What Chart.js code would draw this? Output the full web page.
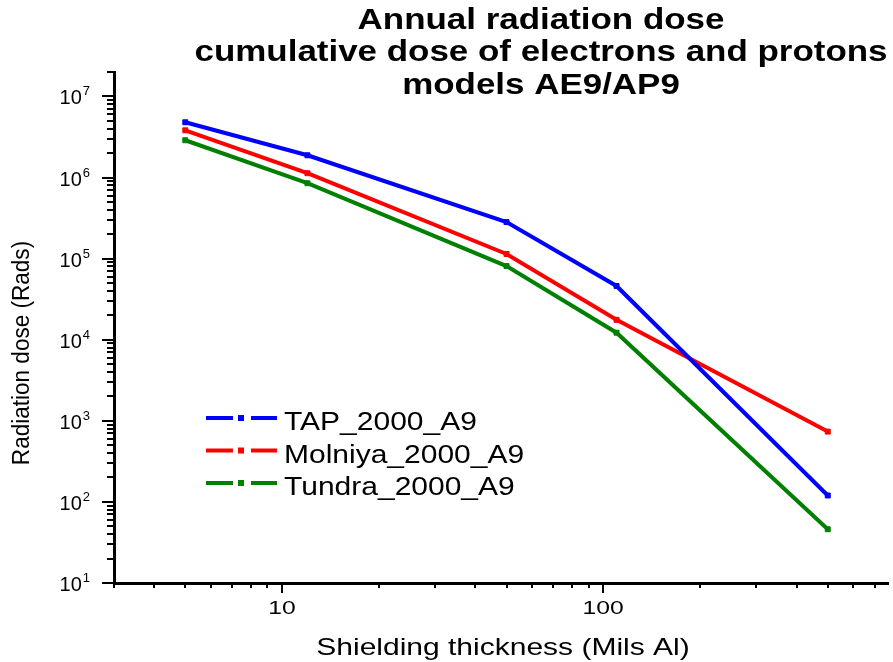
<!DOCTYPE html>
<html>
<head>
<meta charset="utf-8">
<script src="https://cdn.jsdelivr.net/npm/chart.js@4/dist/chart.umd.min.js"></script>
<style>
	html, body { margin: 0; padding: 0; background: #ffffff; }
	canvas { display: block; }
</style>
</head>
<body>
<canvas id="doseChart" width="893" height="662"></canvas>
<script>
//DOSE DATA
//Shielding thickness in mils of aluminium, dose in rads per year

const thicknessMils = [5, 12, 50, 110, 500];
const tapDose = [4.8e6, 1.88e6, 2.82e5, 4.6e4, 120];
const molniyaDose = [3.82e6, 1.13e6, 1.14e5, 1.76e4, 736];
const tundraDose = [2.88e6, 8.5e5, 8.1e4, 1.22e4, 46];
const seriesNames = ["TAP_2000_A9", "Molniya_2000_A9", "Tundra_2000_A9"];
const seriesColors = ["#0000ff", "#ff0000", "#008000"];
const titleLines = [
	"Annual radiation dose",
	"cumulative dose of electrons and protons",
	"models AE9/AP9",
];
const xTickLabels = [10, 100];
const yTickLabels = [1e1, 1e2, 1e3, 1e4, 1e5, 1e6, 1e7];
const xTitle = "Shielding thickness (Mils Al)";
const yTitle = "Radiation dose (Rads)";

const FONT = "'Liberation Sans', Arial, sans-serif";

function toPoints(values) {
	return thicknessMils.map((x, i) => ({ x: x, y: values[i] }));
}

// draws text squeezed or stretched sideways, like the reference
function drawText(ctx, text, x, y, font, sx, align) {
	ctx.save();
	ctx.font = font;
	ctx.textAlign = "left";
	ctx.textBaseline = "alphabetic";
	const w = ctx.measureText(text).width * sx;
	let left = x;
	if (align === "center") left = x - w / 2;
	if (align === "right") left = x - w;
	ctx.translate(left, y);
	ctx.scale(sx, 1);
	ctx.fillText(text, 0, 0);
	ctx.restore();
	return w;
}

function isDecadeStep(v) {
	const e = Math.floor(Math.log10(v) + 1e-9);
	const m = v / Math.pow(10, e);
	return Math.abs(m - Math.round(m)) < 1e-6;
}

function isMajor(v) {
	const l = Math.log10(v);
	return Math.abs(l - Math.round(l)) < 1e-6;
}

//AXES, TICKS, TITLE AND LEGEND
const doseDecorations = {
	id: "doseDecorations",
	afterDraw(chart) {
		const ctx = chart.ctx;
		const xs = chart.scales.x;
		const ys = chart.scales.y;
		const area = chart.chartArea;
		ctx.save();
		ctx.fillStyle = "#000000";
		ctx.strokeStyle = "#000000";
		ctx.lineWidth = 2;

		// x ticks
		xs.ticks.forEach((t) => {
			if (!isDecadeStep(t.value)) return;
			const px = Math.round(xs.getPixelForValue(t.value));
			const len = isMajor(t.value) ? 10 : 5;
			ctx.beginPath();
			ctx.moveTo(px, area.bottom);
			ctx.lineTo(px, area.bottom + len);
			ctx.stroke();
		});
		// y ticks
		ys.ticks.forEach((t) => {
			if (!isDecadeStep(t.value)) return;
			const py = Math.round(ys.getPixelForValue(t.value));
			const len = isMajor(t.value) ? 12 : 7;
			ctx.beginPath();
			ctx.moveTo(area.left, py);
			ctx.lineTo(area.left - len, py);
			ctx.stroke();
		});

		// x tick labels
		xTickLabels.forEach((v) => {
			const px = xs.getPixelForValue(v);
			drawText(ctx, String(v), px, area.bottom + 31, "19px " + FONT, 1.3, "center");
		});
		// y tick labels as 10 with exponent
		yTickLabels.forEach((v) => {
			const py = ys.getPixelForValue(v);
			const exp = String(Math.round(Math.log10(v)));
			ctx.font = "13px " + FONT;
			const ew = ctx.measureText(exp).width;
			const right = area.left - 24;
			drawText(ctx, exp, right, py - 1, "13px " + FONT, 1, "right");
			drawText(ctx, "10", right - ew - 1, py + 8, "20px " + FONT, 1, "right");
		});

		// axis titles
		drawText(ctx, xTitle, (area.left + area.right) / 2 + 2, 655, "24px " + FONT, 1.25, "center");
		ctx.save();
		ctx.translate(29, 353);
		ctx.rotate(-Math.PI / 2);
		drawText(ctx, yTitle, 0, 0, "23px " + FONT, 0.98, "center");
		ctx.restore();

		// chart title
		const titleFont = "bold 29px " + FONT;
		ctx.font = titleFont;
		const titleSx = 693 / ctx.measureText(titleLines[1]).width;
		titleLines.forEach((line, i) => {
			drawText(ctx, line, 541, 29 + i * 32.3, titleFont, titleSx, "center");
		});

		// legend inside the plot
		chart.data.datasets.forEach((ds, i) => {
			const ly = 418 + i * 32.5;
			ctx.strokeStyle = ds.borderColor;
			ctx.fillStyle = ds.borderColor;
			ctx.lineWidth = 4;
			ctx.beginPath();
			ctx.moveTo(206, ly);
			ctx.lineTo(233, ly);
			ctx.moveTo(251, ly);
			ctx.lineTo(277, ly);
			ctx.stroke();
			ctx.fillRect(238, ly - 3, 6, 6);
			ctx.fillStyle = "#000000";
			drawText(ctx, ds.label, 284, ly + 12, "25px " + FONT, 1.2, "left");
		});
		ctx.restore();
	},
};

const doseData = {
	datasets: [tapDose, molniyaDose, tundraDose].map((values, i) => ({
		label: seriesNames[i],
		data: toPoints(values),
		borderColor: seriesColors[i],
		backgroundColor: seriesColors[i],
		borderWidth: 4,
		pointStyle: "rect",
		pointRadius: 3.5,
		pointBorderWidth: 1,
		tension: 0,
	})),
};

const doseConfig = {
	type: "line",
	data: doseData,
	options: {
		responsive: false,
		animation: false,
		devicePixelRatio: 1,
		layout: { padding: { top: 72, left: 0, right: 0, bottom: 0 } },
		plugins: {
			legend: { display: false },
			title: { display: false },
			tooltip: { enabled: false },
		},
		scales: {
			x: {
				type: "logarithmic",
				min: 3,
				max: 770,
				ticks: { display: false },
				grid: { display: false },
				border: { display: true, color: "#000000", width: 3 },
				afterFit(scale) {
					scale.height = 79;
				},
			},
			y: {
				type: "logarithmic",
				min: 10,
				max: 2e7,
				ticks: { display: false },
				grid: { display: false },
				border: { display: true, color: "#000000", width: 3 },
				afterFit(scale) {
					scale.width = 114;
				},
			},
		},
	},
	plugins: [doseDecorations],
};

const DoseChart = new Chart(document.getElementById("doseChart"), doseConfig);
</script>
</body>
</html>
